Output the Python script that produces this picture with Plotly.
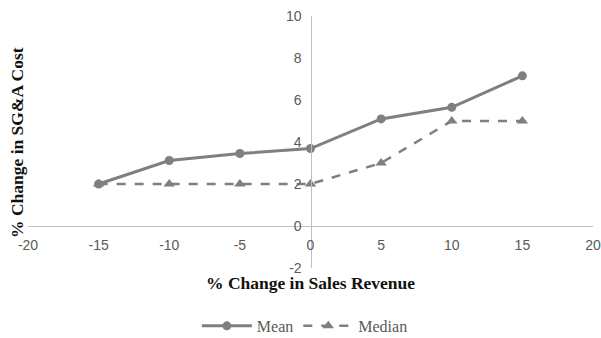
import plotly.graph_objects as go

x_vals = [-15, -10, -5, 0, 5, 10, 15]
mean_vals = [2.0, 3.12, 3.45, 3.69, 5.1, 5.65, 7.15]
median_vals = [2.0, 2.0, 2.0, 2.0, 3.0, 5.0, 5.0]
x_ticks = [-20, -15, -10, -5, 0, 5, 10, 15, 20]
x_ticktext = ["-20", "-15", "-10", "-5", "0", "5", "10", "15", "20"]
y_ticks = [-2, 0, 2, 4, 6, 8, 10]
y_ticktext = ["-2", "0", "2", "4", "6", "8", "10"]

fig = go.Figure()
fig.add_trace(go.Scatter(
    x=x_vals, y=mean_vals, name="Mean", mode="lines+markers",
    line=dict(color="#7f7f7f", width=3),
    marker=dict(symbol="circle", size=9, color="#7f7f7f"),
))
fig.add_trace(go.Scatter(
    x=x_vals, y=median_vals, name="Median", mode="lines+markers",
    line=dict(color="#7f7f7f", width=2.5, dash="dash"),
    marker=dict(symbol="triangle-up", size=10, color="#7f7f7f"),
))

tickfont = dict(family="Liberation Sans, Arial, sans-serif", size=14, color="#595959")

fig.update_layout(
    width=601, height=338,
    margin=dict(l=28, r=8, t=16, b=70, autoexpand=False),
    paper_bgcolor="white", plot_bgcolor="white",
    showlegend=True,
    legend=dict(orientation="h", x=0.49, xanchor="center", y=-0.23, yanchor="middle",
                font=dict(family="Liberation Serif, Times New Roman, serif", size=16, color="#595959"),
                itemwidth=50),
    xaxis=dict(range=[-20, 20], tickvals=x_ticks, ticktext=x_ticktext,
               showgrid=False, zeroline=False, automargin=False,
               showline=True, linecolor="#c0c0c0", linewidth=1.2,
               anchor="free", position=2/12,
               ticks="outside", ticklen=6, tickcolor="rgba(0,0,0,0)",
               tickfont=tickfont),
    yaxis=dict(range=[-2, 10], tickvals=y_ticks, ticktext=y_ticktext,
               showgrid=False, zeroline=False, automargin=False,
               showline=True, linecolor="#c0c0c0", linewidth=1.2,
               anchor="free", position=0.5,
               ticks="outside", ticklen=6, tickcolor="rgba(0,0,0,0)",
               tickfont=tickfont),
    annotations=[
        dict(text="<b>% Change in Sales Revenue</b>", xref="paper", yref="paper",
             x=0.5, y=-0.06, xanchor="center", yanchor="middle", showarrow=False,
             font=dict(family="Liberation Serif, Times New Roman, serif", size=17.5, color="#111111")),
        dict(text="<b>% Change in SG&A Cost</b>", xref="paper", yref="paper",
             x=-0.0195, y=0.5, xanchor="center", yanchor="middle", showarrow=False,
             textangle=-90,
             font=dict(family="Liberation Serif, Times New Roman, serif", size=17.5, color="#111111")),
    ],
)

fig.write_html("out.html")
